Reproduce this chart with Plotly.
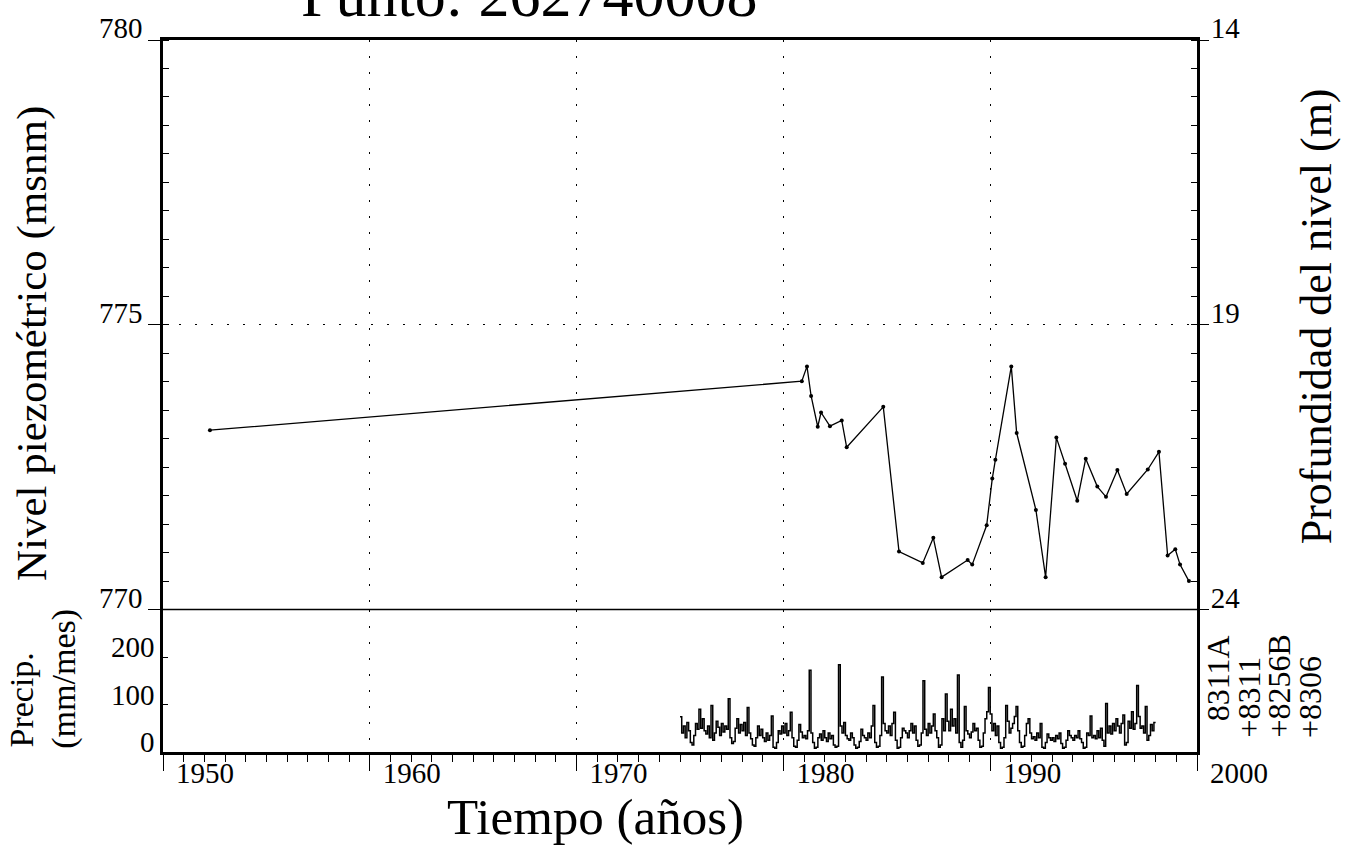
import plotly.graph_objects as go

# ---- Piezometric level record (decimal year, m a.s.l.) ----
level_years = [1952.27, 1980.89, 1981.14, 1981.34, 1981.66, 1981.82, 1982.25, 1982.82,
               1983.06, 1984.83, 1985.59, 1986.74, 1987.25, 1987.65, 1988.91, 1989.13,
               1989.83, 1990.10, 1990.25, 1991.02, 1991.28, 1992.21, 1992.68, 1993.20,
               1993.62, 1994.21, 1994.62, 1995.18, 1995.60, 1996.15, 1996.60, 1997.62,
               1998.16, 1998.58, 1998.95, 1999.18, 1999.61]
level_values = [773.15, 774.01, 774.27, 773.75, 773.21, 773.46, 773.22, 773.32,
                772.85, 773.56, 771.02, 770.82, 771.26, 770.57, 770.87, 770.79,
                771.48, 772.30, 772.63, 774.27, 773.10, 771.75, 770.57, 773.02,
                772.56, 771.91, 772.65, 772.16, 771.98, 772.45, 772.03, 772.46,
                772.77, 770.95, 771.06, 770.79, 770.50]
# ground surface elevation linking level (m a.s.l.) and depth to water (m)
ground_elevation = 794.0

# ---- Monthly precipitation (mm/month), January..December ----
precip_first_year = 1975
precip_1975 = [74, 40, 55, 30, 62, 45, 20, 15, 35, 60, 48, 90]
precip_1976 = [50, 70, 45, 38, 55, 30, 98, 25, 40, 65, 52, 35]
precip_1977 = [60, 42, 55, 48, 112, 30, 18, 22, 50, 70, 40, 58]
precip_1978 = [45, 62, 35, 94, 40, 28, 15, 12, 30, 55, 35, 48]
precip_1979 = [30, 22, 40, 25, 35, 76, 10, 8, 20, 45, 38, 55]
precip_1980 = [40, 60, 35, 45, 84, 30, 12, 10, 25, 58, 42, 30]
precip_1981 = [35, 28, 45, 172, 40, 20, 8, 10, 30, 38, 25, 45]
precip_1982 = [30, 22, 40, 28, 35, 15, 10, 12, 184, 55, 40, 62]
precip_1983 = [35, 28, 25, 40, 30, 15, 8, 10, 22, 48, 35, 30]
precip_1984 = [25, 40, 30, 55, 98, 20, 10, 12, 35, 158, 60, 45]
precip_1985 = [40, 55, 35, 60, 84, 25, 8, 10, 30, 50, 45, 40]
precip_1986 = [30, 45, 60, 40, 55, 25, 12, 15, 40, 150, 48, 35]
precip_1987 = [60, 40, 55, 80, 45, 30, 10, 15, 70, 45, 122, 65]
precip_1988 = [45, 90, 55, 70, 40, 162, 20, 10, 25, 96, 45, 38]
precip_1989 = [30, 42, 60, 45, 50, 25, 10, 12, 40, 70, 85, 136]
precip_1990 = [80, 45, 60, 35, 55, 20, 8, 10, 30, 98, 65, 40]
precip_1991 = [50, 60, 75, 96, 45, 20, 10, 12, 35, 60, 70, 40]
precip_1992 = [28, 32, 25, 40, 30, 60, 10, 8, 20, 38, 30, 25]
precip_1993 = [30, 22, 35, 28, 40, 18, 8, 10, 25, 45, 35, 30]
precip_1994 = [25, 35, 30, 45, 28, 20, 8, 10, 40, 35, 76, 30]
precip_1995 = [35, 28, 45, 30, 50, 25, 12, 102, 40, 55, 38, 60]
precip_1996 = [45, 70, 55, 40, 60, 78, 15, 20, 65, 50, 85, 48]
precip_1997 = [60, 140, 75, 50, 55, 40, 96, 25, 35, 58, 45, 62]

precip_years = [precip_1975, precip_1976, precip_1977, precip_1978, precip_1979,
                precip_1980, precip_1981, precip_1982, precip_1983, precip_1984,
                precip_1985, precip_1986, precip_1987, precip_1988, precip_1989,
                precip_1990, precip_1991, precip_1992, precip_1993, precip_1994,
                precip_1995, precip_1996, precip_1997]

# ---- Axis ticks and labels ----
year_ticks = [1950, 1960, 1970, 1980, 1990, 2000]
year_labels = ["1950", "1960", "1970", "1980", "1990", "2000"]
level_ticks = [770, 775, 780]
depth_ticks = [14, 19, 24]
precip_ticks = [0, 100, 200]
stations = ["8311A", "+8311", "+8256B", "+8306"]
title_text = "Punto: 262740008"

FONT = "Liberation Serif"
W, H = 1345, 846
ML, MR, MT, MB = 163, 148, 33, 94
PW, PH = W - ML - MR, H - MT - MB
SPLIT = 0.2  # fraction of plot height taken by the precipitation panel
DOTS = "2px,14px"


def px(xp):
    return (xp - ML) / PW


def py(yp):
    return (H - MB - yp) / PH


# monthly step series
p_x, p_y = [], []
for i, months in enumerate(precip_years):
    for m, v in enumerate(months):
        p_x.append(precip_first_year + i + m / 12.0)
        p_y.append(v)
p_x.append(precip_first_year + len(precip_years))
p_y.append(p_y[-1])

depth_values = [ground_elevation - v for v in level_values]

fig = go.Figure()

fig.add_trace(go.Scatter(
    x=level_years, y=level_values, xaxis="x2", yaxis="y",
    mode="lines+markers", line=dict(color="black", width=1.3),
    marker=dict(color="black", size=4), showlegend=False, hoverinfo="skip"))

# same record expressed as depth; carries the right-hand axis
fig.add_trace(go.Scatter(
    x=level_years, y=depth_values, xaxis="x2", yaxis="y2",
    mode="lines", line=dict(color="black", width=1.3), opacity=0,
    showlegend=False, hoverinfo="skip"))

fig.add_trace(go.Scatter(
    x=p_x, y=p_y, xaxis="x", yaxis="y3",
    mode="lines", line=dict(color="black", width=1.5, shape="hv"),
    showlegend=False, hoverinfo="skip"))

tickfont = dict(family=FONT, size=29, color="black")

fig.update_layout(
    width=W, height=H,
    margin=dict(l=ML, r=MR, t=MT, b=MB, pad=0),
    paper_bgcolor="white", plot_bgcolor="white",
    font=dict(family=FONT, color="black"),
    xaxis=dict(
        domain=[0, 1], anchor="y3", range=[1950, 2000],
        tickmode="array", tickvals=year_ticks, ticktext=year_labels,
        ticks="outside", ticklen=16, tickwidth=1, tickcolor="black",
        minor=dict(ticks="outside", dtick=1, ticklen=7, tickwidth=1, tickcolor="black",
                   showgrid=False),
        ticklabelshift=42, ticklabelstandoff=-23,
        tickfont=tickfont,
        showline=True, linewidth=3, linecolor="black",
        showgrid=True, gridcolor="black", gridwidth=1, griddash=DOTS,
        zeroline=False),
    xaxis2=dict(
        domain=[0, 1], anchor="y", matches="x", side="top", range=[1950, 2000],
        tickmode="array", tickvals=year_ticks, showticklabels=False, ticks="",
        showline=True, linewidth=3, linecolor="black",
        showgrid=True, gridcolor="black", gridwidth=1, griddash=DOTS,
        zeroline=False),
    yaxis=dict(
        domain=[SPLIT, 1], anchor="x2", range=[770, 780],
        tickmode="array", tickvals=level_ticks,
        ticks="outside", ticklen=12, tickwidth=1, tickcolor="black",
        minor=dict(ticks="inside", dtick=0.5, ticklen=6, tickwidth=1, tickcolor="black",
                   showgrid=False),
        ticklabelshift=-12, tickfont=tickfont,
        showline=True, linewidth=2.5, linecolor="black",
        showgrid=True, gridcolor="black", gridwidth=1, griddash=DOTS,
        zeroline=False),
    yaxis2=dict(
        overlaying="y", side="right", anchor="x2", range=[24, 14],
        tickmode="array", tickvals=depth_ticks,
        ticks="outside", ticklen=9, tickwidth=1, tickcolor="black",
        minor=dict(ticks="inside", dtick=0.5, ticklen=6, tickwidth=1, tickcolor="black",
                   showgrid=False),
        ticklabelshift=12, ticklabelstandoff=-4, tickfont=tickfont,
        showline=True, linewidth=3, linecolor="black",
        showgrid=False, zeroline=False),
    yaxis3=dict(
        domain=[0, SPLIT], anchor="x", range=[0, 300],
        tickmode="array", tickvals=precip_ticks,
        ticks="inside", ticklen=5, tickwidth=1, tickcolor="black",
        ticklabelshift=-10, tickfont=tickfont,
        showline=True, linewidth=2.5, linecolor="black", mirror=True,
        showgrid=False, zeroline=False),
)

# separator between the level panel and the precipitation panel
fig.add_shape(type="line", xref="paper", yref="paper",
              x0=0, x1=1.0, y0=SPLIT, y1=SPLIT,
              line=dict(color="black", width=1.5))

annotations = [
    dict(text=title_text, x=px(529), y=py(24), xanchor="center", yanchor="bottom",
         font=dict(family=FONT, size=62)),
    dict(text="Nivel piezométrico (msnm)", x=px(32), y=py(340), textangle=-90,
         xanchor="center", yanchor="middle", font=dict(family=FONT, size=43)),
    dict(text="Profundidad del nivel (m)", x=px(1316), y=py(312), textangle=-90,
         xanchor="center", yanchor="middle", font=dict(family=FONT, size=44)),
    dict(text="Precip.", x=px(22), y=py(700), textangle=-90,
         xanchor="center", yanchor="middle", font=dict(family=FONT, size=34)),
    dict(text="(mm/mes)", x=px(64), y=py(678), textangle=-90,
         xanchor="center", yanchor="middle", font=dict(family=FONT, size=34)),
    dict(text="Tiempo (años)", x=px(595), y=py(818), xanchor="center", yanchor="middle",
         font=dict(family=FONT, size=51)),
]
station_x = [1218, 1249, 1279, 1310]
station_bottom = [723, 740, 740, 740]
for name, sx, sb in zip(stations, station_x, station_bottom):
    annotations.append(dict(text=name, x=px(sx), y=py(sb), textangle=-90,
                            xanchor="center", yanchor="bottom",
                            font=dict(family=FONT, size=32)))
for a in annotations:
    a.update(xref="paper", yref="paper", showarrow=False)
fig.update_layout(annotations=annotations)

fig.write_html("out.html")
